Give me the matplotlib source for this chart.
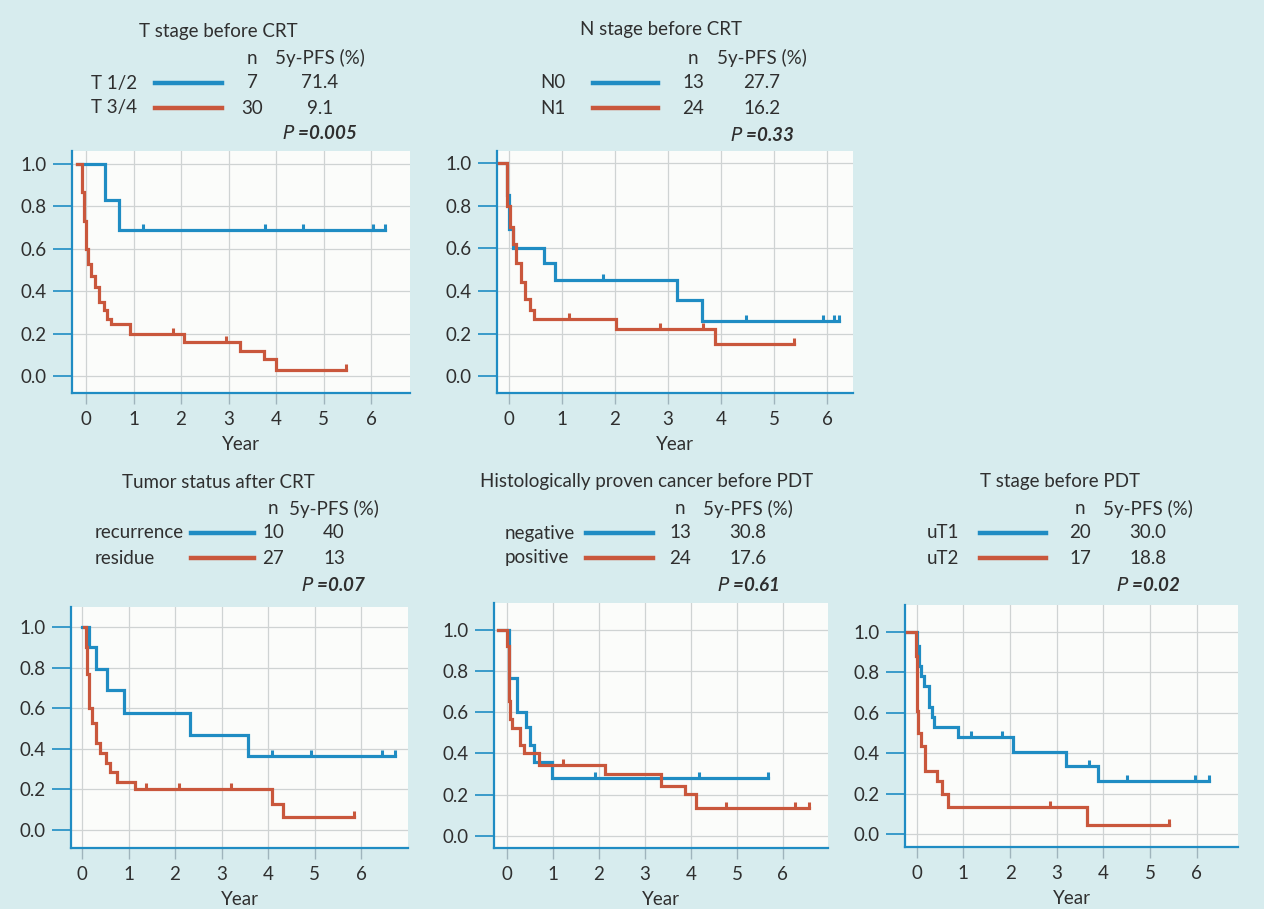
import numpy as np
import matplotlib
matplotlib.use("Agg")
import matplotlib.pyplot as plt
from matplotlib.lines import Line2D

plt.rcParams['font.family'] = ['Lato', 'DejaVu Sans']

W, H = 1264, 909
BLUE = '#1f8cc3'
RED = '#c9573c'
TXT = '#2f2f2f'
BG = '#d7ecee'
GRID = '#cfd3d3'

# ---------- data (time in years, survival) ----------
# T stage before CRT
p1_blue_t = [-0.18, 0.4, 0.7, 6.3]
p1_blue_s = [1.0, 0.83, 0.69, 0.69]
p1_blue_c = [1.2, 3.77, 4.57, 6.05, 6.3]
p1_red_t = [-0.18, -0.08, -0.05, 0.0, 0.05, 0.1, 0.19, 0.27, 0.38, 0.45, 0.52, 0.92, 2.06, 3.24, 3.75, 3.99, 5.47]
p1_red_s = [1.0, 0.87, 0.73, 0.6, 0.53, 0.47, 0.42, 0.35, 0.31, 0.27, 0.245, 0.2, 0.16, 0.12, 0.08, 0.03, 0.03]
p1_red_c = [1.84, 2.95, 5.47]

# N stage before CRT
p2_blue_t = [-0.2, -0.04, 0.0, 0.08, 0.67, 0.86, 3.17, 3.65, 6.23]
p2_blue_s = [1.0, 0.85, 0.69, 0.6, 0.53, 0.45, 0.356, 0.26, 0.26]
p2_blue_c = [1.77, 4.48, 5.92, 6.14, 6.23]
p2_red_t = [-0.19, -0.04, 0.01, 0.08, 0.13, 0.14, 0.23, 0.31, 0.39, 0.48, 2.01, 3.88, 5.37]
p2_red_s = [1.0, 0.8, 0.7, 0.62, 0.58, 0.53, 0.44, 0.36, 0.31, 0.27, 0.223, 0.153, 0.153]
p2_red_c = [1.13, 2.84, 3.66, 5.37]

# Tumor status after CRT
p3_blue_t = [0.0, 0.15, 0.3, 0.53, 0.9, 2.32, 3.56, 6.72]
p3_blue_s = [1.0, 0.9, 0.795, 0.69, 0.577, 0.47, 0.366, 0.366]
p3_blue_c = [4.09, 4.93, 6.46, 6.72]
p3_red_t = [0.05, 0.08, 0.1, 0.15, 0.22, 0.3, 0.38, 0.52, 0.6, 0.75, 1.14, 4.09, 4.32, 5.85]
p3_red_s = [1.0, 0.9, 0.77, 0.6, 0.526, 0.43, 0.377, 0.328, 0.287, 0.238, 0.2, 0.13, 0.062, 0.062]
p3_red_c = [1.37, 2.09, 3.21, 5.85]

# Histologically proven cancer before PDT
p4_blue_t = [-0.2, 0.04, 0.22, 0.42, 0.51, 0.58, 0.98, 5.67]
p4_blue_s = [1.0, 0.768, 0.6, 0.53, 0.443, 0.36, 0.28, 0.28]
p4_blue_c = [1.92, 4.17, 5.67]
p4_red_t = [-0.2, -0.01, 0.04, 0.07, 0.11, 0.28, 0.38, 0.7, 2.14, 3.35, 3.88, 4.12, 6.56]
p4_red_s = [1.0, 0.922, 0.654, 0.565, 0.524, 0.443, 0.4, 0.346, 0.3, 0.244, 0.203, 0.135, 0.135]
p4_red_c = [1.22, 4.76, 6.27, 6.56]

# T stage before PDT
p5_blue_t = [-0.2, 0.01, 0.04, 0.09, 0.16, 0.27, 0.32, 0.37, 0.89, 2.06, 3.2, 3.89, 6.25]
p5_blue_s = [1.0, 0.93, 0.83, 0.78, 0.73, 0.626, 0.58, 0.53, 0.478, 0.407, 0.336, 0.264, 0.264]
p5_blue_c = [1.16, 1.82, 3.68, 4.51, 5.96, 6.25]
p5_red_t = [-0.2, -0.01, 0.0, 0.01, 0.03, 0.09, 0.17, 0.43, 0.54, 0.68, 3.64, 5.41]
p5_red_s = [1.0, 0.88, 0.76, 0.61, 0.497, 0.437, 0.313, 0.26, 0.196, 0.132, 0.044, 0.044]
p5_red_c = [2.86, 5.41]

titles = ['T stage before CRT', 'N stage before CRT', 'Tumor status after CRT',
          'Histologically proven cancer before PDT', 'T stage before PDT']
group_names = [['T 1/2', 'T 3/4'], ['N0', 'N1'], ['recurrence', 'residue'],
               ['negative', 'positive'], ['uT1', 'uT2']]
group_n = [['7', '30'], ['13', '24'], ['10', '27'], ['13', '24'], ['20', '17']]
group_pfs = [['71.4', '9.1'], ['27.7', '16.2'], ['40', '13'], ['30.8', '17.6'], ['30.0', '18.8']]
p_values = ['0.005', '0.33', '0.07', '0.61', '0.02']

curves = [
    (p1_blue_t, p1_blue_s, p1_blue_c, p1_red_t, p1_red_s, p1_red_c),
    (p2_blue_t, p2_blue_s, p2_blue_c, p2_red_t, p2_red_s, p2_red_c),
    (p3_blue_t, p3_blue_s, p3_blue_c, p3_red_t, p3_red_s, p3_red_c),
    (p4_blue_t, p4_blue_s, p4_blue_c, p4_red_t, p4_red_s, p4_red_c),
    (p5_blue_t, p5_blue_s, p5_blue_c, p5_red_t, p5_red_s, p5_red_c),
]

# ---------- layout (pixels) ----------
# axes box: left, bottom, right, top ; xlim ; ylim
boxes = [
    (72, 393, 410, 151, (-0.295, 6.82), (-0.08, 1.061)),
    (497, 393, 853, 151, (-0.226, 6.49), (-0.079, 1.056)),
    (71, 848, 408, 607, (-0.237, 7.01), (-0.089, 1.099)),
    (494, 848, 828, 603, (-0.283, 6.98), (-0.059, 1.13)),
    (905, 847, 1238, 605, (-0.25, 6.88), (-0.064, 1.132)),
]
# legend anchors: title center x, title y, label x, label align, line x0, x1, n x, pfs x, header y, row y1, row y2, p y
legs = [
    (218, 32, 137, 'right', 155, 222, 252, 320, 58, 83, 108, 133),
    (661, 30, 540, 'left', 593, 658, 693, 762, 58, 83, 108, 135),
    (218, 482, 95, 'left', 191, 254, 273, 334, 509, 533, 558, 585),
    (647, 482, 505, 'left', 586, 653, 680, 748, 509, 533, 558, 585),
    (1060, 482, 927, 'left', 980, 1046, 1080, 1148, 509, 533, 558, 585),
]

fig = plt.figure(figsize=(W / 100, H / 100), dpi=100)
fig.patch.set_facecolor(BG)


def fx(x):
    return x / W


def fy(y):
    return 1 - y / H


def step_at(t, s, c):
    idx = np.searchsorted(t, c, side='right') - 1
    return np.array(s)[idx]


up_tick = [(0, 0), (0, 1)]

for i in range(5):
    l, b, r, t, xl, yl = boxes[i]
    ax = fig.add_axes([fx(l), fy(b), fx(r - l), (b - t) / H])
    ax.set_facecolor('#fbfcfa')
    ax.set_xlim(*xl)
    ax.set_ylim(*yl)
    ax.set_xticks(range(7))
    ax.set_yticks([0.0, 0.2, 0.4, 0.6, 0.8, 1.0])
    ax.set_yticklabels(['0.0', '0.2', '0.4', '0.6', '0.8', '1.0'])
    ax.grid(True, color=GRID, lw=0.9)
    ax.set_axisbelow(True)
    for sp in ['top', 'right']:
        ax.spines[sp].set_visible(False)
    for sp in ['left', 'bottom']:
        ax.spines[sp].set_color(BLUE)
        ax.spines[sp].set_linewidth(1.6)
    ax.tick_params(axis='y', length=14, width=1.2, color=BLUE, labelsize=13.5,
                   labelcolor=TXT, pad=4)
    ax.tick_params(axis='x', length=8, width=1.0, color='#9fb4bc', labelsize=13.5,
                   labelcolor=TXT, pad=5)
    ax.set_xlabel('Year', fontsize=13.5, color=TXT, labelpad=6)

    bt, bs, bc, rt, rs, rc = curves[i]
    ax.step(bt, bs, where='post', color=BLUE, lw=2.3, solid_joinstyle='miter', zorder=3)
    ax.step(rt, rs, where='post', color=RED, lw=2.3, solid_joinstyle='miter', zorder=3)
    ax.plot(bc, step_at(bt, bs, bc), ls='none', marker=up_tick, ms=8, mew=2.2,
            color=BLUE, zorder=3)
    ax.plot(rc, step_at(rt, rs, rc), ls='none', marker=up_tick, ms=8, mew=2.2,
            color=RED, zorder=3)

    # legend block
    tcx, ty, lx, la, lx0, lx1, nx, px, hy, y1, y2, py = legs[i]
    fig.text(fx(tcx), fy(ty), titles[i], ha='center', va='center', fontsize=13.5, color=TXT)
    fig.text(fx(nx), fy(hy), 'n', ha='center', va='center', fontsize=13.5, color=TXT)
    fig.text(fx(px), fy(hy), '5y-PFS (%)', ha='center', va='center', fontsize=13.5, color=TXT)
    for k, (yy, col) in enumerate([(y1, BLUE), (y2, RED)]):
        fig.text(fx(lx), fy(yy), group_names[i][k], ha=la, va='center', fontsize=13.5, color=TXT)
        fig.add_artist(Line2D([fx(lx0), fx(lx1)], [fy(yy), fy(yy)], color=col, lw=3.2,
                              transform=fig.transFigure))
        fig.text(fx(nx), fy(yy), group_n[i][k], ha='center', va='center', fontsize=13.5, color=TXT)
        fig.text(fx(px), fy(yy), group_pfs[i][k], ha='center', va='center', fontsize=13.5, color=TXT)
    fig.text(fx(px), fy(py), r'$\it{P}$ =' + p_values[i], ha='center', va='center',
             fontsize=13.5, color=TXT, style='italic', fontweight='bold')

fig.savefig('out.png', dpi=100, facecolor=BG)
